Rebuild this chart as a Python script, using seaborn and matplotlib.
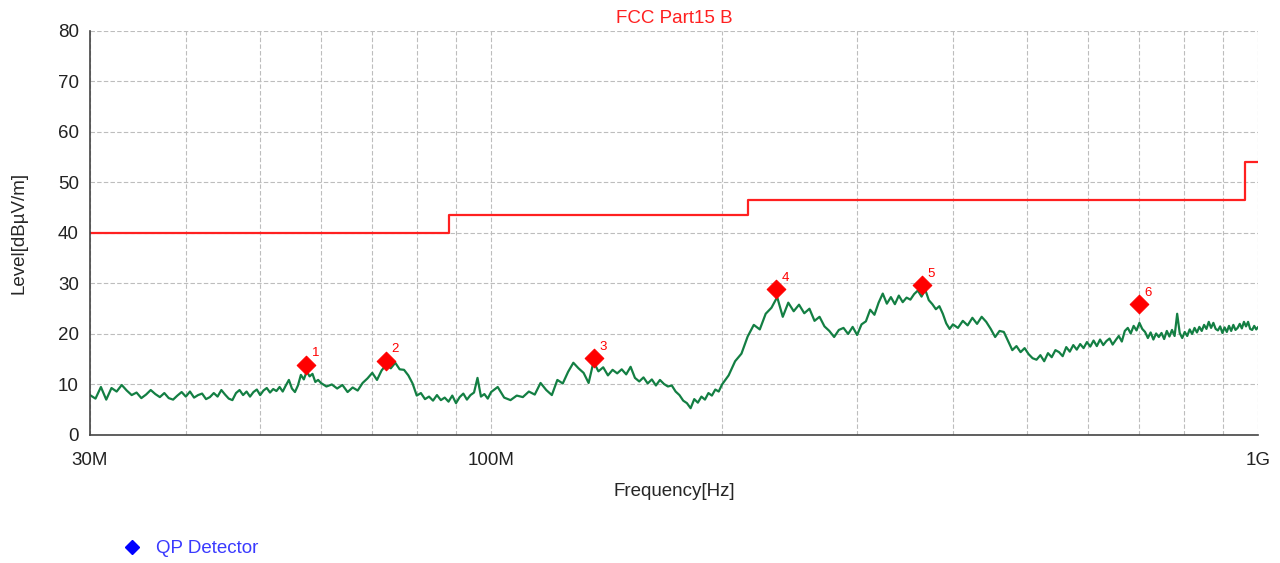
import matplotlib
matplotlib.use("Agg")
import matplotlib.pyplot as plt
from matplotlib.lines import Line2D
import seaborn as sns
import pandas as pd

# sweep (MHz, dBuV/m)
freq_a = [30.0, 30.5, 31.0, 31.5, 32.0, 32.5, 33.0, 33.5, 34.0, 34.5, 35.0, 35.5, 36.0, 36.5, 37.0, 37.5,
          38.0, 38.5, 39.0, 39.5, 40.0, 40.5, 41.0, 41.5, 42.0, 42.5, 43.0, 43.5, 44.0, 44.5, 45.0, 45.5,
          46.0, 46.5, 47.0, 47.5, 48.0, 48.5, 49.0, 49.5, 50.0, 50.5, 51.0, 51.5, 52.0, 52.5, 53.0, 53.5,
          54.0, 54.5, 55.0, 55.5, 56.0, 56.5, 57.0, 57.5, 58.0, 58.5, 59.0, 59.5, 60.0]
level_a = [7.9, 7.2, 9.5, 7.0, 9.3, 8.6, 9.9, 8.8, 7.9, 8.4, 7.3, 8.0, 8.9, 8.1, 7.5, 8.3,
           7.3, 7.0, 7.8, 8.5, 7.6, 8.6, 7.4, 7.9, 8.2, 7.1, 7.5, 8.3, 7.6, 8.9, 8.0, 7.2,
           6.9, 8.3, 8.9, 7.9, 8.6, 7.6, 8.5, 9.0, 7.9, 8.8, 9.3, 8.4, 9.1, 8.7, 9.5, 8.6,
           9.8, 10.9, 9.2, 8.5, 9.8, 11.9, 11.0, 12.6, 11.6, 12.1, 10.5, 10.9, 10.3]

freq_b = [61, 62, 63, 64, 65, 66, 67, 68, 69, 70, 71, 72, 73, 74, 75, 76, 77, 78, 79, 80,
          81, 82, 83, 84, 85, 86, 87, 88, 89, 90, 91, 92, 93, 94, 95, 96, 97, 98, 99, 100]
level_b = [9.6, 10.0, 9.2, 9.9, 8.5, 9.4, 8.8, 10.3, 11.2, 12.3, 10.9, 12.8, 13.9, 13.2, 14.3, 13.0,
           12.9, 11.8, 10.2, 7.8, 8.3, 7.1, 7.6, 6.8, 7.9, 6.9, 7.4, 6.6, 7.8, 6.3, 7.5, 8.2,
           7.0, 7.9, 8.4, 11.3, 7.6, 8.1, 7.2, 8.5]

freq_c = [102, 104, 106, 108, 110, 112, 114, 116, 118, 120, 122, 124, 126, 128, 130, 132, 134,
          136, 138, 140, 142, 144, 146, 148, 150, 152, 154, 156, 158, 160, 162, 164, 166, 168,
          170, 172, 174, 176, 178, 180, 182, 184, 186, 188, 190, 192, 194, 196, 198, 200]
level_c = [9.5, 7.4, 6.9, 7.8, 7.5, 8.6, 8.0, 10.3, 8.9, 7.9, 10.9, 10.2, 12.5, 14.3, 13.2, 12.3, 10.3,
           14.5, 12.6, 13.4, 11.8, 12.9, 12.2, 13.0, 12.0, 13.5, 11.3, 10.6, 11.4, 10.2, 11.0, 9.8,
           10.9, 10.1, 9.6, 9.8, 8.6, 7.9, 6.8, 6.3, 5.3, 7.1, 6.4, 7.6, 7.0, 8.3, 7.8, 9.0, 8.6, 10.0]

freq_d = [204, 208, 212, 216, 220, 224, 228, 232, 236, 240, 244, 248, 252, 256, 260, 264, 268,
          272, 276, 280, 284, 288, 292, 296, 300, 304, 308, 312, 316, 320, 324, 328, 332, 336,
          340, 344, 348, 352, 356, 360, 364, 368, 372, 376, 380, 384, 388, 392, 396, 400]
level_d = [11.8, 14.6, 16.1, 19.5, 21.8, 20.9, 24.0, 25.2, 27.3, 23.4, 26.2, 24.5, 25.8, 24.1, 25.0,
           22.6, 23.4, 21.5, 20.6, 19.4, 20.8, 21.2, 20.0, 21.4, 19.8, 21.9, 22.5, 24.8, 23.8, 26.2,
           28.0, 26.0, 27.3, 25.9, 27.6, 26.3, 27.2, 26.8, 27.9, 28.6, 27.4, 28.8, 26.7, 25.9, 24.9,
           25.5, 24.0, 22.1, 21.0, 21.9]

freq_e = [406, 412, 418, 424, 430, 436, 442, 448, 454, 460, 466, 472, 478, 484, 490, 496, 502, 508,
          514, 520, 526, 532, 538, 544, 550, 556, 562, 568, 574, 580, 586, 592, 598, 604, 610, 616,
          622, 628, 634, 640, 646, 652, 658, 664, 670, 676, 682, 688, 694, 700, 706, 712, 718, 724,
          730, 736, 742, 748, 754, 760, 766, 772, 778, 784, 790, 796, 802, 808, 814, 820, 826, 832,
          838, 844, 850, 856, 862, 868, 874, 880, 886, 892, 898, 904, 910, 916, 922, 928, 934, 940,
          946, 952, 958, 964, 970, 976, 982, 988, 994, 1000]
level_e = [21.2, 22.6, 21.7, 23.2, 22.0, 23.4, 22.4, 21.0, 19.4, 20.6, 20.4, 18.6, 16.8, 17.6, 16.4,
           17.2, 16.0, 15.2, 14.9, 15.8, 14.6, 16.2, 15.4, 16.8, 16.4, 15.6, 17.4, 16.5, 17.8, 16.9,
           18.0, 17.2, 18.4, 17.5, 18.7, 17.6, 18.9, 17.8, 18.6, 19.1, 17.9, 18.8, 19.6, 18.5, 20.6,
           21.2, 20.1, 21.6, 20.7, 22.2, 21.0, 20.4, 19.2, 20.3, 18.9, 20.1, 19.4, 20.2, 19.0, 20.6,
           19.5, 20.8, 19.6, 24.0, 20.2, 19.2, 20.4, 19.6, 20.9, 20.0, 21.2, 20.3, 21.4, 20.6, 21.8,
           21.0, 22.4, 21.2, 22.2, 21.0, 20.7, 21.5, 20.2, 21.3, 20.4, 21.6, 20.6, 21.8, 20.8, 21.2,
           22.0, 21.1, 22.4, 21.5, 22.4, 21.0, 20.8, 21.6, 20.9, 21.4]

# FCC Part15 B limit steps
limit_freq = [30, 88, 216, 960, 1000]
limit_level = [40, 43.5, 46.5, 54, 54]

# QP detector peaks
peak_freq = [57.4, 73.0, 136.2, 235.3, 364.7, 699.0]
peak_level = [13.9, 14.7, 15.2, 28.9, 29.7, 25.9]
peak_label = ["1", "2", "3", "4", "5", "6"]

trace = pd.DataFrame({
    "freq": freq_a + freq_b + freq_c + freq_d + freq_e,
    "level": level_a + level_b + level_c + level_d + level_e,
})
limit = pd.DataFrame({"freq": limit_freq, "level": limit_level})
peaks = pd.DataFrame({"freq": peak_freq, "level": peak_level, "label": peak_label})

sns.set_style("white")
plt.rcParams["font.family"] = ["Liberation Sans", "DejaVu Sans"]

fig = plt.figure(figsize=(12.8, 5.63), dpi=100)
ax = fig.add_axes([0.0703, 0.2274, 0.9127, 0.7176])

sns.lineplot(data=trace, x="freq", y="level", color="#137f43", lw=1.6, sort=False, ax=ax)
sns.lineplot(data=limit, x="freq", y="level", color="#ff2020", lw=1.6,
             drawstyle="steps-post", ax=ax)
sns.scatterplot(data=peaks, x="freq", y="level", marker="D", s=90, color="red",
                edgecolor="red", zorder=5, ax=ax)
for f, l, t in zip(peak_freq, peak_level, peak_label):
    ax.annotate(t, (f, l), xytext=(4, 6), textcoords="offset points",
                color="red", fontsize=9.5)

ax.set_xscale("log")
ax.set_xlim(30, 1000)
ax.set_ylim(0, 80)
ax.set_xticks([30, 100, 1000])
ax.set_xticklabels(["30M", "100M", "1G"])
ax.set_xticks([40, 50, 60, 70, 80, 90, 200, 300, 400, 500, 600, 700, 800, 900], minor=True)
ax.set_xticklabels([], minor=True)
ax.set_yticks(range(0, 81, 10))

ax.grid(True, which="both", color="#bdbdbd", linestyle=(0, (4, 2)), lw=0.8)
ax.tick_params(axis="both", which="both", direction="inout", length=9, width=1.2,
               color="#333333", labelsize=13.5, colors="#222222")
ax.tick_params(axis="x", pad=8)
for s in ["top", "right"]:
    ax.spines[s].set_visible(False)
for s in ["left", "bottom"]:
    ax.spines[s].set_color("#444444")
    ax.spines[s].set_linewidth(1.2)

ax.set_xlabel("Frequency[Hz]", fontsize=13.5, labelpad=10)
ax.set_ylabel("Level[dBµV/m]", fontsize=13.5, labelpad=22)
ax.set_title("FCC Part15 B", color="#ff2020", fontsize=13.5, pad=6)

handle = Line2D([], [], marker="D", color="blue", linestyle="none", markersize=7)
fig.legend([handle], ["QP Detector"], loc="center left", bbox_to_anchor=(0.075, 0.025),
           frameon=False, fontsize=13.5, labelcolor="#3a3aff", handletextpad=0.3)

fig.savefig("out.png", dpi=100)
